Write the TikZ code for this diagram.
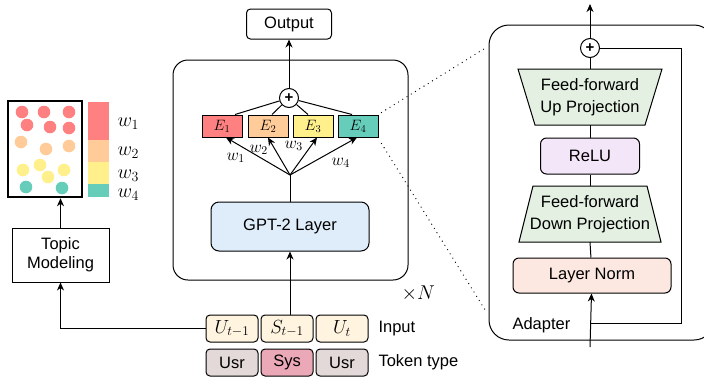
\RequirePackage{fix-cm}
\documentclass[tikz,border=0pt]{standalone}
\usepackage{fontspec}
\setmainfont{Liberation Sans}
\usetikzlibrary{arrows.meta}

\definecolor{topicred}{HTML}{FF8080}
\definecolor{topicorange}{HTML}{FFCC99}
\definecolor{topicyellow}{HTML}{FFF08C}
\definecolor{topicteal}{HTML}{67CDBB}
\definecolor{inputcream}{HTML}{FFF4E0}
\definecolor{usrgray}{HTML}{E3D9D9}
\definecolor{syspink}{HTML}{EBA9B8}
\definecolor{gptblue}{HTML}{DFEDFB}
\definecolor{ffgreen}{HTML}{E3F0E2}
\definecolor{relupurple}{HTML}{F3E6F8}
\definecolor{normpink}{HTML}{FDE8E1}

\begin{document}
\begin{tikzpicture}[
    x=1pt, y=-1pt,
    line width=1pt,
    >={Stealth[length=8pt,width=7pt,inset=2.5pt]},
    block/.style={
        draw,
        rounded corners=4pt,
        inner sep=0pt,
        font=\fontsize{16.5}{20}\selectfont,
        align=center
    },
    expert/.style={
        draw,
        minimum width=40,
        minimum height=22,
        inner sep=0pt,
        font=\fontsize{15}{15}\selectfont
    },
    token/.style={block, minimum width=52, minimum height=27},
    addnode/.style={
        circle,
        draw,
        fill=white,
        inner sep=0pt,
        minimum size=19pt,
        font=\bfseries\fontsize{15}{15}\selectfont
    },
    wlabel/.style={anchor=base west, inner sep=0pt, font=\fontsize{17}{17}\selectfont},
    dotline/.style={line width=1.3pt, line cap=round, dash pattern=on 0pt off 5pt}
]
\clip (0,0) rectangle (704,381);

% outer frames
\node[draw, rounded corners=15pt, minimum width=235, minimum height=220] (stack) at (290.5,170) {};
\node[draw, rounded corners=20pt, minimum width=225, minimum height=315] (adapter) at (601.5,182.5) {};

% topic modeling side
\node[draw, line width=2.5pt, minimum width=74, minimum height=96, inner sep=0pt] (topics) at (45,149) {};
\foreach \x/\y in {22/112, 44/112, 69/112, 27/125, 50/127, 69/128}
    \fill[topicred] (\x,\y) circle (6.3);
\foreach \x/\y in {21/142, 46/149, 69/146}
    \fill[topicorange] (\x,\y) circle (6.3);
\foreach \x/\y in {23/170, 40/165, 64/170, 48/177}
    \fill[topicyellow] (\x,\y) circle (6.3);
\foreach \x/\y in {26/187, 62/188}
    \fill[topicteal] (\x,\y) circle (6.3);

\node[fill=topicred, minimum width=21, minimum height=38, inner sep=0pt] (bar1) at (98.5,121) {};
\node[fill=topicorange, minimum width=21, minimum height=22, inner sep=0pt] (bar2) at (98.5,151) {};
\node[fill=topicyellow, minimum width=21, minimum height=22, inner sep=0pt] (bar3) at (98.5,173) {};
\node[fill=topicteal, minimum width=21, minimum height=13, inner sep=0pt] (bar4) at (98.5,190.5) {};
\node[wlabel, font=\fontsize{20}{20}\selectfont] (leg1) at (117,126) {$w_1$};
\node[wlabel, font=\fontsize{20}{20}\selectfont] (leg2) at (117,155) {$w_2$};
\node[wlabel, font=\fontsize{20}{20}\selectfont] (leg3) at (117,178) {$w_3$};
\node[wlabel, font=\fontsize{20}{20}\selectfont] (leg4) at (117,197) {$w_4$};

\node[draw, inner sep=0pt, minimum width=97, minimum height=54, align=center,
    font=\fontsize{16.5}{19}\selectfont] (tm) at (60.5,255) {Topic\\Modeling};

% mixture of experts block
\node[block, minimum width=85, minimum height=30] (out) at (289,24) {Output};
\node[addnode] (sum) at (289,98) {+};
\node[expert, fill=topicred] (e1) at (222,126) {$E_1$};
\node[expert, fill=topicorange] (e2) at (268,126) {$E_2$};
\node[expert, fill=topicyellow] (e3) at (313,126) {$E_3$};
\node[expert, fill=topicteal] (e4) at (358,126) {$E_4$};
\coordinate (fan) at (290,175);
\node[block, fill=gptblue, minimum width=158, minimum height=49, rounded corners=8pt] (gpt) at (290,226.5) {GPT-2 Layer};

\node[wlabel] (w1) at (226,160) {$w_1$};
\node[wlabel] (w2) at (249,152) {$w_2$};
\node[wlabel] (w3) at (284,148) {$w_3$};
\node[wlabel] (w4) at (331,165) {$w_4$};

\node[anchor=base west, inner sep=0pt, font=\fontsize{20}{20}\selectfont] (times) at (401,299) {$\times N$};

% inputs
\node[token, fill=inputcream, font=\fontsize{19}{19}\selectfont] (u1) at (232,328.5) {$U_{t-1}$};
\node[token, fill=inputcream, font=\fontsize{19}{19}\selectfont] (s1) at (287,328.5) {$S_{t-1}$};
\node[token, fill=inputcream, font=\fontsize{19}{19}\selectfont] (u2) at (342,328.5) {$U_t$};
\node[token, fill=usrgray] (t1) at (232,362.5) {Usr};
\node[token, fill=syspink] (t2) at (287,362.5) {Sys};
\node[token, fill=usrgray] (t3) at (342,362.5) {Usr};
\node[anchor=west, inner sep=0pt, font=\fontsize{16.5}{20}\selectfont] (inlab) at (378,329) {Input};
\node[anchor=west, inner sep=0pt, font=\fontsize{16.5}{20}\selectfont] (typelab) at (378,362) {Token type};

% adapter
\coordinate (upT) at (590,69);
\coordinate (upB) at (590,125);
\coordinate (downT) at (590,186);
\coordinate (downB) at (590,242);
\filldraw[fill=ffgreen] (518,69) -- (662,69) -- (645,125) -- (535,125) -- cycle;
\filldraw[fill=ffgreen] (533,186) -- (647,186) -- (661,242) -- (519,242) -- cycle;
\node[align=center, inner sep=0pt, font=\fontsize{16.5}{22}\selectfont] (upproj) at (590,97) {Feed-forward\\Up Projection};
\node[align=center, inner sep=0pt, font=\fontsize{16.5}{22}\selectfont] (downproj) at (590,214) {Feed-forward\\Down Projection};
\node[block, fill=relupurple, minimum width=99, minimum height=36, rounded corners=6pt] (relu) at (590,156) {ReLU};
\node[block, fill=normpink, minimum width=158, minimum height=35, rounded corners=6pt] (norm) at (592,275.5) {Layer Norm};
\node[addnode] (sum2) at (590,48) {+};
\coordinate (top) at (590,4);
\coordinate (adin) at (590,347);
\coordinate (skip) at (590,323);
\coordinate (skipR) at (681,323);
\node[anchor=base west, inner sep=0pt, font=\fontsize{16.5}{20}\selectfont] (adlab) at (512,329) {Adapter};

% connectors
\draw[->] (sum) -- (out);
\foreach \e/\s in {e1/13, e2/4, e3/-5, e4/-6}
    \draw ([xshift=\s]\e.north) -- (sum);
\draw (gpt.north) -- (fan);
\foreach \e/\s in {e1/4, e2/0, e3/4, e4/-1}
    \draw[->] (fan) -- ([xshift=\s]\e.south);
\draw[->] (gpt.south |- s1.north) -- (gpt.south);
\draw[->] (u1.west) -| (tm.south);
\draw[->] (tm.north) -- (tm.north |- topics.south);

\draw (norm) -- (downB);
\draw (downT) -- (relu);
\draw (relu) -- (upB);
\draw (upT) -- (sum2);
\draw[->] (sum2) -- (top);
\draw[->] (adin) -- (norm);
\draw (skip) -- (skipR) |- (sum2.east);

\draw[dotline] ([shift={(3,-2)}]e4.north east) -- (487,47);
\draw[dotline] ([shift={(3,6)}]e4.south east) -- (487,313);

\end{tikzpicture}
\end{document}
